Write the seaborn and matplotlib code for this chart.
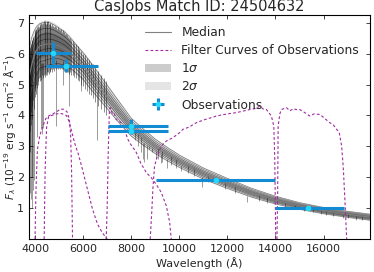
import matplotlib
matplotlib.use("Agg")
import matplotlib.pyplot as plt
import seaborn as sns
import pandas as pd
import numpy as np
from matplotlib.lines import Line2D
from matplotlib.patches import Patch

# median spectrum (continuum) and 1-sigma half width
spec_wl = [3750, 3850, 3950, 4050, 4200, 4400, 4600, 4800, 5000, 5250, 5500, 5750,
           6000, 6250, 6500, 6750, 7000, 7500, 8000, 8500, 9000, 9500, 10000, 11000,
           12000, 13000, 14000, 15000, 16000, 17000, 18000]
spec_flux = [5.2, 5.6, 5.9, 6.1, 6.25, 6.3, 6.32, 6.3, 6.25, 6.15, 6.0, 5.8,
             5.6, 5.35, 5.1, 4.85, 4.6, 4.1, 3.62, 3.3, 3.0, 2.75, 2.52, 2.12,
             1.8, 1.5, 1.26, 1.07, 0.92, 0.8, 0.7]
spec_sig = [0.5, 0.5, 0.45, 0.42, 0.4, 0.4, 0.38, 0.35, 0.32, 0.3, 0.27, 0.25,
            0.24, 0.24, 0.23, 0.22, 0.21, 0.19, 0.16, 0.145, 0.13, 0.12, 0.11, 0.1,
            0.09, 0.08, 0.07, 0.06, 0.057, 0.055, 0.055]
member_k = [-1.8, -1.3, -0.85, -0.4, 0.0, 0.4, 0.85, 1.3, 1.8]

# absorption features hanging below the ensemble
spike_wl = [3770, 3800, 3835, 3860, 3889, 3934, 3969, 4102, 4230, 4300, 4340, 4861,
            5175, 5400, 5893, 6563, 8150, 8300, 8400, 8498, 8542, 8662, 8750, 8865,
            9015, 9100, 9230, 9300, 9500, 9650, 9850, 10050, 10350, 10600, 10940, 11200,
            11900, 12300, 12820, 13300, 13650, 14400, 14800, 15200, 15560, 15880, 16110,
            16410, 16810, 17000, 17360, 17600]
spike_top = [4.5, 4.6, 4.7, 4.8, 4.9, 5.0, 5.1, 5.4, 5.7, 5.7, 5.7, 5.8,
             5.75, 5.6, 5.3, 4.8, 3.5, 3.4, 3.3, 3.1, 3.1, 3.05, 3.0, 2.95,
             2.85, 2.95, 2.75, 2.85, 2.6, 2.7, 2.6, 2.35, 2.4, 2.3, 2.0, 2.05,
             1.82, 1.7, 1.4, 1.42, 1.35, 1.18, 1.1, 1.04, 0.97, 0.92, 0.88,
             0.84, 0.78, 0.8, 0.73, 0.75]
spike_bot = [2.2, 1.5, 1.3, 1.0, 2.0, 1.6, 1.9, 3.3, 3.6, 3.4, 3.6, 3.65,
             5.0, 4.3, 4.8, 3.2, 3.2, 3.0, 2.8, 2.6, 2.5, 2.6, 2.9, 2.8,
             2.6, 2.6, 2.45, 2.5, 2.3, 2.4, 2.3, 2.2, 2.15, 2.05, 1.67, 1.85,
             1.62, 1.5, 1.2, 1.22, 1.17, 1.02, 0.96, 0.9, 0.88, 0.82, 0.78,
             0.74, 0.68, 0.68, 0.6, 0.62]

# fine line forest in the blue part
hair_wl = [3755, 3775, 3790, 3810, 3825, 3845, 3870, 3895, 3915, 3945, 3980, 4005,
           4020, 4045, 4060, 4085, 4115, 4145, 4160, 4190, 4215, 4245, 4275, 4320,
           4360, 4410, 4430, 4455, 4490, 4510, 4550, 4580, 4605, 4640, 4680, 4705,
           4745, 4790, 4830, 4890, 4935, 4960, 5010, 5040, 5080, 5110, 5150, 5210,
           5240, 5290, 5325, 5370, 5430, 5470, 5510, 5580, 5640, 5710, 5770, 5840,
           5920, 6010, 6080, 6170, 6250, 6330, 6400, 6500, 6620, 6750, 6850, 6950]
hair_top = [6.0, 5.9, 6.2, 6.1, 6.3, 6.25, 6.45, 6.4, 6.55, 6.5, 6.7, 6.65,
            6.75, 6.8, 6.75, 6.85, 6.8, 6.9, 6.85, 6.95, 6.9, 7.0, 6.95, 7.0,
            7.05, 7.0, 7.05, 6.95, 7.05, 7.0, 7.05, 6.95, 7.0, 6.95, 6.9, 6.95,
            6.9, 6.85, 6.9, 6.85, 6.8, 6.85, 6.8, 6.75, 6.8, 6.7, 6.75, 6.7,
            6.65, 6.65, 6.6, 6.55, 6.5, 6.5, 6.45, 6.4, 6.35, 6.3, 6.25, 6.15,
            6.1, 6.0, 5.95, 5.85, 5.8, 5.7, 5.65, 5.55, 5.45, 5.3, 5.2, 5.1]
hair_bot = [3.4, 2.8, 3.9, 3.5, 4.1, 3.7, 4.3, 3.9, 4.5, 4.2, 4.8, 4.6,
            4.9, 4.7, 5.0, 4.9, 5.1, 5.0, 5.2, 5.1, 5.25, 5.15, 5.3, 5.2,
            5.3, 5.25, 5.35, 5.3, 5.4, 5.3, 5.4, 5.35, 5.45, 5.4, 5.5, 5.4,
            5.5, 5.45, 5.55, 5.5, 5.55, 5.5, 5.55, 5.5, 5.55, 5.5, 5.5, 5.45,
            5.5, 5.4, 5.45, 5.4, 5.35, 5.4, 5.3, 5.3, 5.25, 5.2, 5.15, 5.1,
            5.0, 4.95, 4.85, 4.8, 4.7, 4.65, 4.55, 4.45, 4.3, 4.2, 4.1, 4.0]

# filter curves
filt_a_wl = [4000, 4040, 4100, 4200, 4300, 4450, 4600, 4750, 4900, 5050, 5200, 5330,
             5420, 5480, 5520, 5560]
filt_a = [0.0, 1.6, 2.9, 3.35, 3.6, 3.9, 4.0, 4.05, 4.12, 4.2, 4.2, 4.12,
          3.9, 3.4, 2.2, 0.0]
filt_b_wl = [4380, 4420, 4480, 4560, 4700, 4900, 5100, 5300, 5420, 5550, 5650, 5800,
             5970, 6180, 6390, 6600, 6800, 7000]
filt_b = [0.0, 2.2, 3.6, 3.95, 4.0, 4.05, 4.06, 4.0, 3.8, 3.4, 3.1, 2.75,
          2.26, 1.61, 0.97, 0.48, 0.2, 0.0]
filt_c_wl = [6960, 7000, 7050, 7095, 7125, 7235, 7300, 7375, 7480, 7580, 7720, 7860,
             7950, 8070, 8180, 8275, 8415, 8520, 8625, 8830, 9040, 9250, 9460, 9600, 9665]
filt_c = [0.0, 1.0, 3.0, 4.19, 4.25, 4.03, 4.05, 3.87, 3.82, 3.76, 3.55, 3.23,
          3.1, 2.96, 2.85, 2.69, 2.42, 2.3, 2.15, 1.99, 1.77, 1.51, 1.07, 0.54, 0.0]
filt_d_wl = [8790, 8850, 8900, 8970, 9110, 9250, 9460, 9735, 10010, 10150, 10400, 10700,
             11000, 11300, 11540, 11800, 12100, 12375, 12650, 12930, 13150, 13350, 13500,
             13625, 13830, 13930, 13970, 14010]
filt_d = [0.0, 0.8, 1.61, 2.36, 2.74, 3.01, 3.17, 3.28, 3.44, 3.55, 3.62, 3.76,
          3.85, 3.92, 3.98, 4.02, 4.06, 4.09, 4.14, 4.19, 4.22, 4.3, 4.2,
          4.19, 3.98, 3.65, 2.58, 0.0]
filt_e_wl = [14060, 14090, 14110, 14180, 14250, 14350, 14460, 14600, 14750, 14850, 15010,
             15200, 15430, 15600, 15850, 16050, 16265, 16400, 16540, 16650, 16750, 16820,
             16890, 16960]
filt_e = [0.0, 1.5, 3.65, 4.05, 4.19, 4.22, 4.25, 4.15, 4.22, 4.19, 4.19,
          4.1, 3.98, 4.05, 4.03, 3.9, 3.76, 3.7, 3.55, 3.45, 3.01, 2.3,
          1.2, 0.0]

# observations
obs_wl = [4760, 5290, 8000, 8000, 11540, 15360]
obs_flux = [6.02, 5.61, 3.66, 3.50, 1.91, 1.01]
obs_xlo = [730, 830, 975, 975, 2500, 1370]
obs_xhi = [740, 1320, 1525, 1525, 2430, 1470]
obs_yerr = [0.36, 0.2, 0.23, 0.1, 0.02, 0.02]

sns.set_style("ticks")
plt.rcParams["font.family"] = ["DejaVu Sans"]
plt.rcParams["mathtext.fontset"] = "dejavusans"

fig = plt.figure(figsize=(3.74, 2.72), dpi=100)
ax = fig.add_axes([29 / 374, 1 - 239 / 272, 341 / 374, 224 / 272])

wl = np.array(spec_wl)
flux = np.array(spec_flux)
sig = np.array(spec_sig)

ax.fill_between(wl, flux - 2 * sig, flux + 2 * sig, color="gray", alpha=0.2, lw=0)
ax.fill_between(wl, flux - sig, flux + sig, color="gray", alpha=0.4, lw=0)

members = pd.DataFrame({
    "wl": np.tile(wl, len(member_k)),
    "flux": np.concatenate([flux + k * sig for k in member_k]),
    "member": np.repeat(np.arange(len(member_k)), len(wl)),
})
sns.lineplot(data=members, x="wl", y="flux", units="member", estimator=None,
             color="k", lw=0.5, alpha=0.5, legend=False, ax=ax)

ax.vlines(hair_wl, hair_bot, hair_top, color="k", lw=0.7, alpha=0.45)
ax.vlines(spike_wl, spike_bot, spike_top, color="k", lw=0.6, alpha=0.45)

sns.lineplot(x=spec_wl, y=spec_flux, color="gray", lw=0.8, ax=ax)

purple = "#a02ca0"
filters = pd.DataFrame({
    "wl": filt_a_wl + filt_b_wl + filt_c_wl + filt_d_wl + filt_e_wl,
    "t": filt_a + filt_b + filt_c + filt_d + filt_e,
    "band": (["a"] * len(filt_a) + ["b"] * len(filt_b) + ["c"] * len(filt_c)
             + ["d"] * len(filt_d) + ["e"] * len(filt_e)),
})
sns.lineplot(data=filters, x="wl", y="t", units="band", estimator=None, sort=False,
             color=purple, lw=0.8, linestyle="--", dashes=False, legend=False, ax=ax)
for ln in ax.lines[-5:]:
    ln.set_dashes((2.5, 2))

obs_color = "#128bd3"
eb = ax.errorbar(obs_wl, obs_flux, xerr=[obs_xlo, obs_xhi], yerr=obs_yerr, fmt="o",
                 color=obs_color, ecolor=obs_color, elinewidth=2.2, capsize=0,
                 ms=3, mfc="#22d8ff", mec="#22d8ff", zorder=5)

ax.set_xlim(3750, 17930)
ax.set_ylim(0, 7.25)
ax.set_xticks([4000, 6000, 8000, 10000, 12000, 14000, 16000])
ax.set_yticks([1, 2, 3, 4, 5, 6, 7])
ax.tick_params(direction="in", top=True, right=True, labelsize=8, length=3, width=0.6)
for s in ax.spines.values():
    s.set_linewidth(0.8)
    s.set_color("k")

ax.set_xlabel("Wavelength (Å)", fontsize=8, labelpad=2)
ax.set_ylabel(r"$F_\lambda$ ($10^{-19}$ erg s$^{-1}$ cm$^{-2}$ Å$^{-1}$)", fontsize=7.6)
ax.yaxis.set_label_coords(-0.031, 0.5)
ax.set_title("CasJobs Match ID: 24504632", fontsize=10.5, pad=3)

handles = [
    Line2D([], [], color="gray", lw=0.8),
    Line2D([], [], color=purple, lw=0.8, dashes=(2.5, 2)),
    Patch(color="gray", alpha=0.4, lw=0),
    Patch(color="gray", alpha=0.2, lw=0),
    eb,
]
labels = ["Median", "Filter Curves of Observations", r"1$\sigma$", r"2$\sigma$", "Observations"]
ax.legend(handles, labels, loc="upper right", frameon=False, fontsize=8.8,
          handlelength=2.2, handletextpad=0.8, labelspacing=0.42, borderaxespad=0.5)

fig.savefig("out.png", dpi=100)
